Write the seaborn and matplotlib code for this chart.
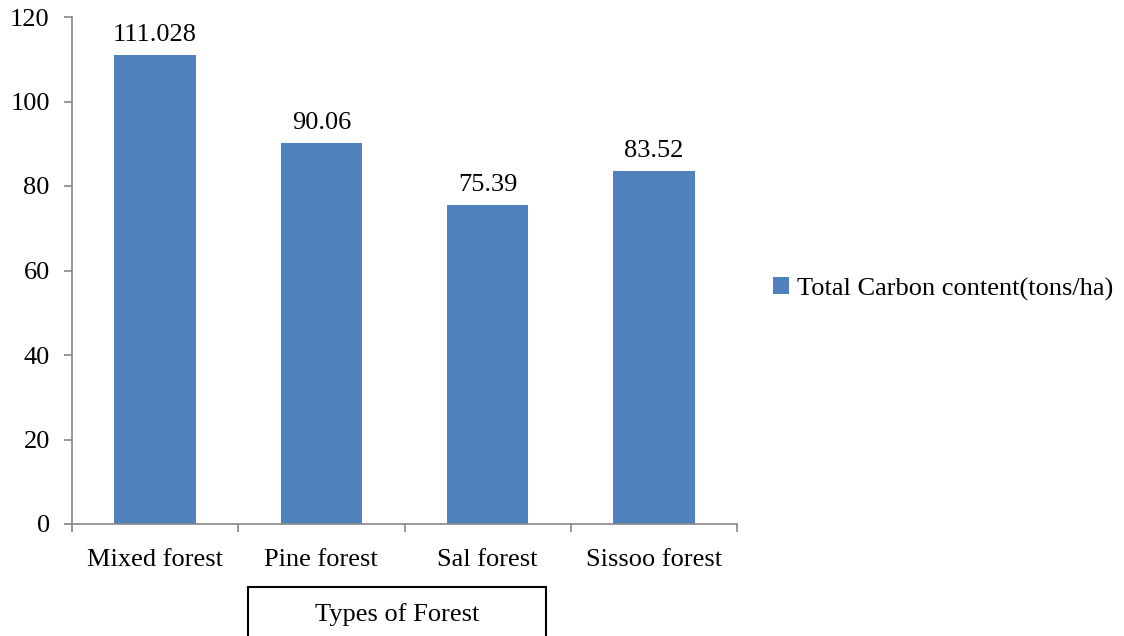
import matplotlib
matplotlib.use("Agg")
import matplotlib.pyplot as plt
from matplotlib.patches import Rectangle
import seaborn as sns
import pandas as pd

forest_types = ["Mixed forest", "Pine forest", "Sal forest", "Sissoo forest"]
carbon_content = [111.028, 90.06, 75.39, 83.52]
value_labels = ["111.028", "90.06", "75.39", "83.52"]
y_ticks = [0, 20, 40, 60, 80, 100, 120]
series_name = "Total Carbon content(tons/ha)"
axis_title = "Types of Forest"

sns.set_theme(style="white")
plt.rcParams["font.family"] = ["Liberation Serif", "DejaVu Serif"]

BAR = "#4F81BD"
AXIS = "#868686"
FS = 19

df = pd.DataFrame({"forest": forest_types, "carbon": carbon_content})

fig = plt.figure(figsize=(11.24, 6.36), dpi=100)
ax = fig.add_axes([72 / 1124, 1 - 524 / 636, (737 - 72) / 1124, (524 - 17) / 636])

sns.barplot(data=df, x="forest", y="carbon", color=BAR, width=0.49,
            saturation=1, label=series_name, linewidth=0, legend=False, ax=ax)
if ax.get_legend() is not None:
    ax.get_legend().remove()

ax.set_xlim(-0.5, len(forest_types) - 0.5)
ax.set_ylim(0, 120)
ax.set_yticks(y_ticks)
ax.set_yticklabels([str(t) for t in y_ticks], fontsize=FS, color="black")
ax.set_xticks(range(len(forest_types)))
ax.set_xticklabels(forest_types, fontsize=FS, color="black")
ax.set_xticks([i - 0.5 for i in range(len(forest_types) + 1)], minor=True)
ax.tick_params(axis="x", which="major", length=0, pad=18)
ax.tick_params(axis="x", which="minor", length=6, width=1.2, color=AXIS, bottom=True)
ax.tick_params(axis="y", which="major", length=6, width=1.2, color=AXIS, left=True, pad=10)
ax.set_xlabel("")
ax.set_ylabel("")

for side in ["top", "right"]:
    ax.spines[side].set_visible(False)
for side in ["left", "bottom"]:
    ax.spines[side].set_color(AXIS)
    ax.spines[side].set_linewidth(1.2)

for bar, txt in zip(ax.patches, value_labels):
    ax.annotate(txt, (bar.get_x() + bar.get_width() / 2, bar.get_height()),
                xytext=(0, 6.5), textcoords="offset points",
                ha="center", va="bottom", fontsize=FS, color="black")

# axis title in a framed box below the category labels
fig.patches.append(Rectangle((248 / 1124, -0.05), (546 - 248) / 1124, 0.05 + (636 - 587) / 636,
                             transform=fig.transFigure, fill=False,
                             edgecolor="black", linewidth=1.5))
fig.text(397 / 1124, 1 - 615 / 636, axis_title, ha="center", va="center",
         fontsize=FS, color="black")

fig.legend([ax.patches[0]], [series_name], loc="center left",
           bbox_to_anchor=(773 / 1124, 1 - 289 / 636), frameon=False,
           fontsize=FS, labelcolor="black", handlelength=0.6, handleheight=0.6,
           handletextpad=0.3, borderaxespad=0, borderpad=0)

fig.savefig("out.png", dpi=100)
